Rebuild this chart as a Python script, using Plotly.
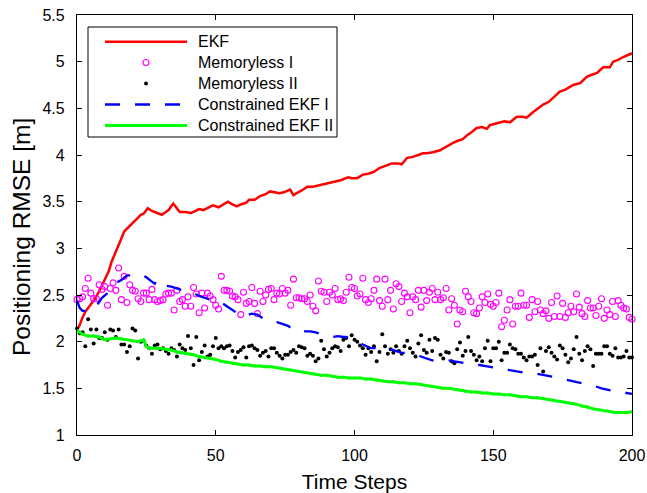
import plotly.graph_objects as go

# ---------------- data ----------------
ekf_x = [0, 1, 2, 3, 5, 6.5, 8, 10, 11.5, 12.5, 14, 15.5, 17, 18.5, 20, 22, 23, 24, 25.5, 27,
         29, 30.5, 32, 33, 34.7, 36, 37, 39, 41, 42, 44, 45.5, 47, 49, 51, 53, 54.4, 56, 57.6, 59,
         61, 62, 64, 66, 68, 69.5, 71, 73, 74.5, 76.8, 78, 79, 81, 83, 85, 87.6, 89, 91, 93.6, 95,
         97.7, 99, 100.9, 103, 105, 107, 109, 111, 113.5, 115.7, 117, 119, 121, 123, 124.7, 126,
         128.3, 130.8, 133, 135.5, 137, 139, 140.5, 142, 144, 146, 147.7, 148.8, 150, 152.4, 154,
         156, 158.5, 160.5, 162, 164.4, 166, 168, 170, 171.6, 174, 176, 178.8, 181.3, 183.8, 185.5,
         187.4, 189.6, 192, 193.2, 195, 196.8, 198.5, 200]
ekf_y = [2.12, 2.18, 2.26, 2.32, 2.40, 2.46, 2.54, 2.66, 2.76, 2.86, 2.96, 3.07, 3.18, 3.23, 3.27,
         3.33, 3.36, 3.37, 3.43, 3.40, 3.38, 3.36, 3.39, 3.41, 3.48, 3.43, 3.39, 3.39, 3.38, 3.39,
         3.42, 3.41, 3.43, 3.46, 3.44, 3.47, 3.50, 3.47, 3.45, 3.47, 3.49, 3.52, 3.52, 3.56, 3.58,
         3.61, 3.60, 3.59, 3.60, 3.63, 3.57, 3.59, 3.62, 3.66, 3.66, 3.68, 3.69, 3.70, 3.72, 3.73,
         3.76, 3.75, 3.75, 3.79, 3.80, 3.82, 3.86, 3.88, 3.91, 3.91, 3.90, 3.97, 3.98, 4.00, 4.02,
         4.02, 4.03, 4.05, 4.09, 4.13, 4.15, 4.17, 4.21, 4.24, 4.29, 4.30, 4.28, 4.32, 4.33, 4.35,
         4.36, 4.35, 4.41, 4.41, 4.40, 4.46, 4.50, 4.54, 4.57, 4.61, 4.68, 4.70, 4.75, 4.77, 4.84,
         4.86, 4.88, 4.94, 4.94, 5.00, 5.02, 5.05, 5.07, 5.09]

mem1 = [2.45, 2.46, 2.48, 2.57, 2.68, 2.52, 2.46, 2.46, 2.61, 2.56,
        2.59, 2.39, 2.57, 2.63, 2.55, 2.79, 2.45, 2.70, 2.42, 2.61,
        2.55, 2.54, 2.46, 2.43, 2.52, 2.52, 2.45, 2.56, 2.45, 2.43,
        2.44, 2.45, 2.51, 2.52, 2.52, 2.34, 2.55, 2.43, 2.45, 2.38,
        2.48, 2.38, 2.58, 2.51, 2.31, 2.52, 2.36, 2.52, 2.49, 2.45,
        2.39, 2.35, 2.70, 2.55, 2.55, 2.54, 2.49, 2.48, 2.45, 2.29,
        2.53, 2.41, 2.43, 2.58, 2.41, 2.30, 2.54, 2.43, 2.50, 2.56,
        2.57, 2.45, 2.52, 2.51, 2.57, 2.52, 2.55, 2.39, 2.67, 2.47,
        2.47, 2.46, 2.46, 2.43, 2.50, 2.38, 2.33, 2.65, 2.54, 2.53,
        2.43, 2.53, 2.50, 2.57, 2.45, 2.46, 2.44, 2.53, 2.69, 2.58,
        2.57, 2.49, 2.51, 2.68, 2.45, 2.42, 2.46, 2.55, 2.67, 2.44,
        2.38, 2.67, 2.45, 2.55, 2.35, 2.62, 2.59, 2.43, 2.52, 2.48,
        2.31, 2.48, 2.45, 2.55, 2.37, 2.55, 2.44, 2.53, 2.57, 2.45,
        2.53, 2.45, 2.47, 2.57, 2.34, 2.46, 2.39, 2.19, 2.34, 2.32,
        2.54, 2.48, 2.43, 2.31, 2.30, 2.36, 2.48, 2.42, 2.51, 2.40,
        2.38, 2.42, 2.52, 2.16, 2.23, 2.34, 2.45, 2.19, 2.38, 2.38,
        2.52, 2.39, 2.39, 2.26, 2.45, 2.32, 2.43, 2.34, 2.30, 2.33,
        2.25, 2.42, 2.27, 2.49, 2.27, 2.41, 2.26, 2.31, 2.38, 2.32,
        2.51, 2.37, 2.30, 2.27, 2.44, 2.36, 2.36, 2.28, 2.38, 2.46,
        2.25, 2.34, 2.29, 2.43, 2.27, 2.44, 2.39, 2.36, 2.35, 2.26,
        2.24]

mem2 = [2.14, 2.09, 2.10, 1.95, 2.24, 2.13, 1.98, 2.13, 2.04, 2.04,
        2.10, 2.02, 2.13, 2.12, 2.05, 2.13, 1.97, 1.97, 1.89, 1.95,
        2.14, 2.12, 1.82, 2.00, 2.01, 1.96, 1.93, 1.87, 1.96, 1.97,
        1.92, 1.93, 1.90, 1.87, 1.93, 1.91, 1.84, 1.97, 1.93, 1.91,
        2.06, 1.93, 1.75, 2.05, 1.80, 1.89, 1.96, 1.84, 1.86, 1.95,
        2.04, 1.93, 1.95, 1.93, 1.95, 1.96, 1.90, 1.83, 1.89, 1.91,
        1.94, 1.83, 1.95, 1.96, 1.93, 1.91, 1.85, 1.88, 1.90, 1.84,
        1.93, 1.93, 1.88, 1.85, 1.82, 1.86, 1.86, 1.89, 1.91, 1.88,
        1.95, 1.94, 1.93, 1.85, 1.87, 1.85, 1.79, 1.82, 2.01, 1.92,
        1.84, 1.88, 1.93, 1.95, 1.94, 1.90, 2.02, 2.04, 1.95, 2.07,
        2.02, 2.00, 1.96, 1.93, 1.86, 1.93, 1.89, 1.95, 1.79, 1.89,
        2.08, 1.95, 1.87, 1.92, 1.88, 1.95, 1.90, 1.87, 1.95, 2.01,
        1.93, 1.88, 1.84, 1.98, 2.07, 1.91, 1.88, 2.02, 1.90, 2.04,
        2.02, 1.86, 1.82, 1.89, 1.88, 1.79, 1.77, 1.92, 1.99, 1.85,
        1.90, 2.05, 1.90, 1.86, 1.80, 1.84, 1.79, 1.93, 2.01, 1.79,
        1.93, 1.93, 2.00, 1.80, 1.88, 1.88, 1.97, 1.93, 1.92, 1.87,
        1.87, 1.83, 1.80, 1.84, 1.84, 1.86, 1.75, 1.93, 1.68, 1.90,
        1.94, 1.88, 1.84, 1.81, 1.96, 1.93, 1.86, 1.78, 1.82, 1.92,
        2.05, 1.87, 1.80, 1.90, 1.95, 1.92, 1.74, 1.87, 1.87, 1.87,
        1.95, 1.95, 1.87, 1.85, 1.93, 1.83, 1.83, 1.84, 1.90, 1.83,
        1.83]

cekf1_x = [0, 1, 2, 4, 6, 7, 9, 11, 13, 14, 16, 18, 20, 21, 23, 25, 27, 28, 29, 31,
           32, 34, 36, 38, 40, 42, 44, 45, 47, 50, 52, 54, 55, 57, 59, 61, 63, 65, 66, 68,
           70, 72, 74, 76, 78, 80, 82, 84, 86, 88, 90, 92, 94, 96, 97, 99, 101, 103, 106, 108,
           110, 112, 114, 117, 119, 121, 123, 125, 128, 130, 132, 134, 136, 139, 141, 143, 145, 147, 150, 152,
           155, 158, 161, 163, 165, 167, 170, 172, 175, 178, 181, 183, 186, 189, 192, 195, 198, 200]
cekf1_y = [2.44, 2.36, 2.33, 2.33, 2.34, 2.38, 2.47, 2.52, 2.58, 2.63,
           2.66, 2.71, 2.71, 2.70, 2.72, 2.69, 2.64, 2.62, 2.67, 2.62,
           2.60, 2.59, 2.57, 2.55, 2.52, 2.52, 2.49, 2.48, 2.46, 2.42,
           2.42, 2.38, 2.36, 2.32, 2.27, 2.28, 2.30, 2.29, 2.27, 2.23,
           2.21, 2.21, 2.19, 2.17, 2.13, 2.10, 2.11, 2.11, 2.10, 2.08,
           2.06, 2.05, 2.06, 2.05, 2.05, 2.02, 2.00, 1.97, 1.93, 1.93,
           1.94, 1.93, 1.91, 1.88, 1.88, 1.86, 1.85, 1.83, 1.80, 1.80,
           1.80, 1.80, 1.79, 1.77, 1.76, 1.75, 1.75, 1.74, 1.73, 1.72,
           1.70, 1.69, 1.67, 1.66, 1.66, 1.65, 1.63, 1.62, 1.60, 1.58,
           1.56, 1.55, 1.53, 1.50, 1.48, 1.46, 1.45, 1.44]

cekf2_x = [0, 1, 2, 4, 6, 8, 10, 12, 14, 16, 18, 20, 22, 24, 25, 26, 28, 30, 32, 34,
           36, 38, 40, 42, 44, 46, 48, 50, 52, 54, 56, 58, 60, 62, 64, 66, 68, 70, 72, 74,
           76, 78, 80, 82, 84, 86, 88, 90, 92, 94, 96, 98, 100, 102, 104, 106, 108, 110, 112, 114,
           116, 118, 120, 122, 124, 126, 128, 130, 132, 134, 136, 138, 140, 142, 144, 146, 148, 150, 152, 154,
           156, 158, 160, 162, 164, 166, 168, 170, 172, 174, 176, 178, 180, 182, 184, 186, 188, 190, 192, 194,
           196, 198, 200]
cekf2_y = [2.12, 2.10, 2.08, 2.06, 2.06, 2.05, 2.02, 2.03, 2.04, 2.03,
           2.02, 2.01, 2.00, 2.02, 1.95, 1.93, 1.93, 1.93, 1.92, 1.91,
           1.89, 1.88, 1.87, 1.86, 1.84, 1.83, 1.82, 1.81, 1.79, 1.78,
           1.77, 1.76, 1.75, 1.75, 1.74, 1.74, 1.73, 1.73, 1.72, 1.71,
           1.70, 1.69, 1.68, 1.67, 1.66, 1.65, 1.64, 1.64, 1.63, 1.62,
           1.62, 1.61, 1.61, 1.61, 1.60, 1.60, 1.59, 1.58, 1.57, 1.57,
           1.56, 1.56, 1.55, 1.55, 1.54, 1.53, 1.52, 1.51, 1.50, 1.50,
           1.49, 1.48, 1.47, 1.46, 1.46, 1.45, 1.45, 1.44, 1.44, 1.43,
           1.43, 1.42, 1.41, 1.41, 1.40, 1.40, 1.39, 1.38, 1.37, 1.36,
           1.35, 1.34, 1.33, 1.31, 1.30, 1.28, 1.27, 1.26, 1.25, 1.24,
           1.24, 1.24, 1.25]

series_names = ["EKF", "Memoryless I", "Memoryless II", "Constrained EKF I", "Constrained EKF II"]
x_ticks = [0, 50, 100, 150, 200]
y_ticks = [1, 1.5, 2, 2.5, 3, 3.5, 4, 4.5, 5, 5.5]
x_title = "Time Steps"
y_title = "Positioning RMSE [m]"

# ---------------- styles ----------------
FONT = "Liberation Sans, Arial, Helvetica, sans-serif"
RED, MAG, BLK, BLU, GRN = "#ff0000", "#ff00ff", "#000000", "#0000ff", "#00ff00"
DASH = "15px,15px"

def pairs(xs, ys):
    n = min(len(xs), len(ys))
    return list(xs[:n]), list(ys[:n])

fig = go.Figure()

x, y = pairs(ekf_x, ekf_y)
fig.add_trace(go.Scatter(x=x, y=y, mode="lines", name=series_names[0],
                         line=dict(color=RED, width=2.5), showlegend=False))

fig.add_trace(go.Scatter(x=list(range(len(mem1))), y=mem1, mode="markers", name=series_names[1],
                         marker=dict(symbol="circle-open", size=6, color=MAG, line=dict(width=1.1, color=MAG)),
                         cliponaxis=False, showlegend=False))

fig.add_trace(go.Scatter(x=list(range(len(mem2))), y=mem2, mode="markers", name=series_names[2],
                         marker=dict(symbol="circle", size=4, color=BLK),
                         cliponaxis=False, showlegend=False))

x, y = pairs(cekf1_x, cekf1_y)
fig.add_trace(go.Scatter(x=x, y=y, mode="lines", name=series_names[3],
                         line=dict(color=BLU, width=2.3, dash=DASH), showlegend=False))

x, y = pairs(cekf2_x, cekf2_y)
fig.add_trace(go.Scatter(x=x, y=y, mode="lines+markers", name=series_names[4],
                         line=dict(color=GRN, width=3), marker=dict(size=3, color=GRN),
                         showlegend=False))

# ---------------- custom MATLAB-style legend (paper coords of plot area) ----------------
W, H = 647, 493
L, R, T, B = 77, 15, 15, 58
pw, ph = W - L - R, H - T - B

def px(xp):
    return (xp - L) / pw

def py(yp):
    return (H - B - yp) / ph

shapes = []
annotations = []
shapes.append(dict(type="rect", xref="paper", yref="paper",
                   x0=px(88), x1=px(337), y0=py(137), y1=py(27),
                   line=dict(color="black", width=1), fillcolor="white", layer="above"))
row_y = [41.7, 62.5, 83.5, 104.5, 125.5]
lx0, lx1, lmid, tx = px(105), px(187), px(146), px(196)
styles = [("line", RED, 2.5, "solid"), ("circle", MAG, None, None), ("dot", BLK, None, None),
          ("line", BLU, 2.3, DASH), ("line", GRN, 3, "solid")]
for name, ry, st in zip(series_names, row_y, styles):
    yy = py(ry)
    kind, col, w, dash = st
    if kind == "line":
        shapes.append(dict(type="line", xref="paper", yref="paper", x0=lx0, x1=lx1, y0=yy, y1=yy,
                           line=dict(color=col, width=w, dash=dash), layer="above"))
    elif kind == "circle":
        shapes.append(dict(type="circle", xref="paper", yref="paper", xsizemode="pixel", ysizemode="pixel",
                           xanchor=lmid, yanchor=yy, x0=-3, x1=3, y0=-3, y1=3,
                           line=dict(color=col, width=1.1), layer="above"))
    else:
        shapes.append(dict(type="circle", xref="paper", yref="paper", xsizemode="pixel", ysizemode="pixel",
                           xanchor=lmid, yanchor=yy, x0=-1.9, x1=1.9, y0=-1.9, y1=1.9,
                           line=dict(color=col, width=0), fillcolor=col, layer="above"))
    annotations.append(dict(text=name, xref="paper", yref="paper", x=tx, y=yy,
                            xanchor="left", yanchor="middle", showarrow=False,
                            font=dict(family=FONT, size=16, color="black")))

# y-axis title placed like MATLAB's ylabel
annotations.append(dict(text=y_title, xref="paper", yref="paper", x=px(21), y=py(237),
                        xanchor="center", yanchor="middle", textangle=-90, showarrow=False,
                        font=dict(family=FONT, size=24.5, color="black")))

axis_common = dict(showline=True, linecolor="black", linewidth=1.2, mirror="ticks",
                   ticks="inside", ticklen=5, tickwidth=1, tickcolor="black",
                   showgrid=False, zeroline=False, automargin=False,
                   tickfont=dict(family=FONT, size=16, color="black"))

fig.update_layout(
    width=W, height=H,
    margin=dict(l=L, r=R, t=T, b=B, pad=0, autoexpand=False),
    paper_bgcolor="white", plot_bgcolor="white",
    font=dict(family=FONT, color="black"),
    shapes=shapes, annotations=annotations,
    xaxis=dict(range=[0, 200], tickvals=x_ticks, ticklabelstandoff=6,
               title=dict(text=x_title, font=dict(family=FONT, size=21), standoff=11),
               **axis_common),
    yaxis=dict(range=[1, 5.5], tickvals=y_ticks, ticklabelstandoff=8,
               **axis_common),
)

fig.write_html("out.html", config={"displayModeBar": False},
               post_script="document.body.style.margin='0';document.body.style.padding='0';")
